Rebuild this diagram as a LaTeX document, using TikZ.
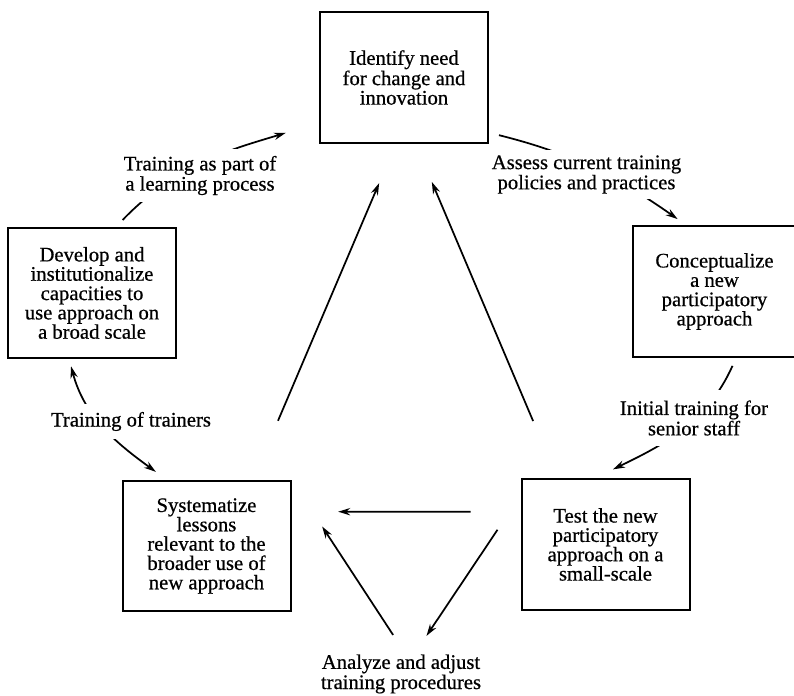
\documentclass[tikz,border=0pt]{standalone}
\usepackage{fontspec}
\setmainfont{Liberation Serif}[FakeBold=0.6]
\usetikzlibrary{arrows.meta}

\begin{document}
\begin{tikzpicture}[x=0.75pt, y=0.75pt, line width=1.3pt,
		>={Stealth[length=9pt,width=5.5pt]},
		stage/.style={draw, line width=1.5pt, minimum width=126pt, minimum height=98pt,
					align=center, font=\fontsize{15.5}{14.5}\selectfont},
		note/.style={fill=white, align=center, inner sep=5pt,
					font=\fontsize{15.5}{13.5}\selectfont}]
		\useasboundingbox (0,0) rectangle (794,696);

		% stages of the cycle
		\node[stage, font=\fontsize{15.5}{12.5}\selectfont] (identify) at (404,618.5)
			{Identify need\\for change and\\innovation};
		\node[stage] (develop) at (92,403)
			{Develop and\\institutionalize\\capacities to\\use approach on\\a broad scale};
		\node[stage, minimum width=122.25pt] (concept) at (714.5,404.5)
			{Conceptualize\\a new\\participatory\\approach};
		\node[stage] (system) at (206.5,150)
			{Systematize\\lessons\\relevant to the\\broader use of\\new approach};
		\node[stage] (test) at (605.5,151.5)
			{Test the new\\participatory\\approach on a\\small-scale};

		% curved links, the labels sit on top of them
		\draw[->, shorten <=7pt, shorten >=26pt] (develop.70) to[out=46, in=197] (identify.208);
		\draw[->, shorten <=7.7pt, shorten >=8pt] (identify.-33) to[out=-14, in=145] (concept.113);
		\draw[->, shorten <=6.6pt, shorten >=15pt] (concept.-72) to[out=-114, in=26] (test.99);
		\draw[<->, shorten <=5.4pt, shorten >=10pt] (develop.251) to[out=-75, in=144] (system.121);

		\node[note] (learnlbl) at (200,520.5) {Training as part of\\a learning process};
		\node[note, inner sep=4pt] (assesslbl) at (586.5,521.5) {Assess current training\\policies and practices};
		\node[note, inner sep=8pt] (initlbl) at (694,278) {Initial training for\\senior staff};
		\node[note, inner sep=6pt] (trainlbl) at (131,274.5) {Training of trainers};
		\node[note] (analyzelbl) at (401,22) {Analyze and adjust\\training procedures};

		% straight links
		\draw[->, shorten <=48pt, shorten >=32pt] (system.55) -- (identify.263);
		\draw[->, shorten <=46.5pt, shorten >=31pt] (test.126) -- (identify.-80);
		\draw[->, shorten <=37.5pt, shorten >=35pt] (test.159) -- (system.22);
		\draw[->, shorten <=31pt, shorten >=10pt] (test.150) -- (analyzelbl);
		\draw[->, shorten <=10.8pt, shorten >=42pt] (analyzelbl.north) -- (system.north east);
	\end{tikzpicture}
\end{document}
